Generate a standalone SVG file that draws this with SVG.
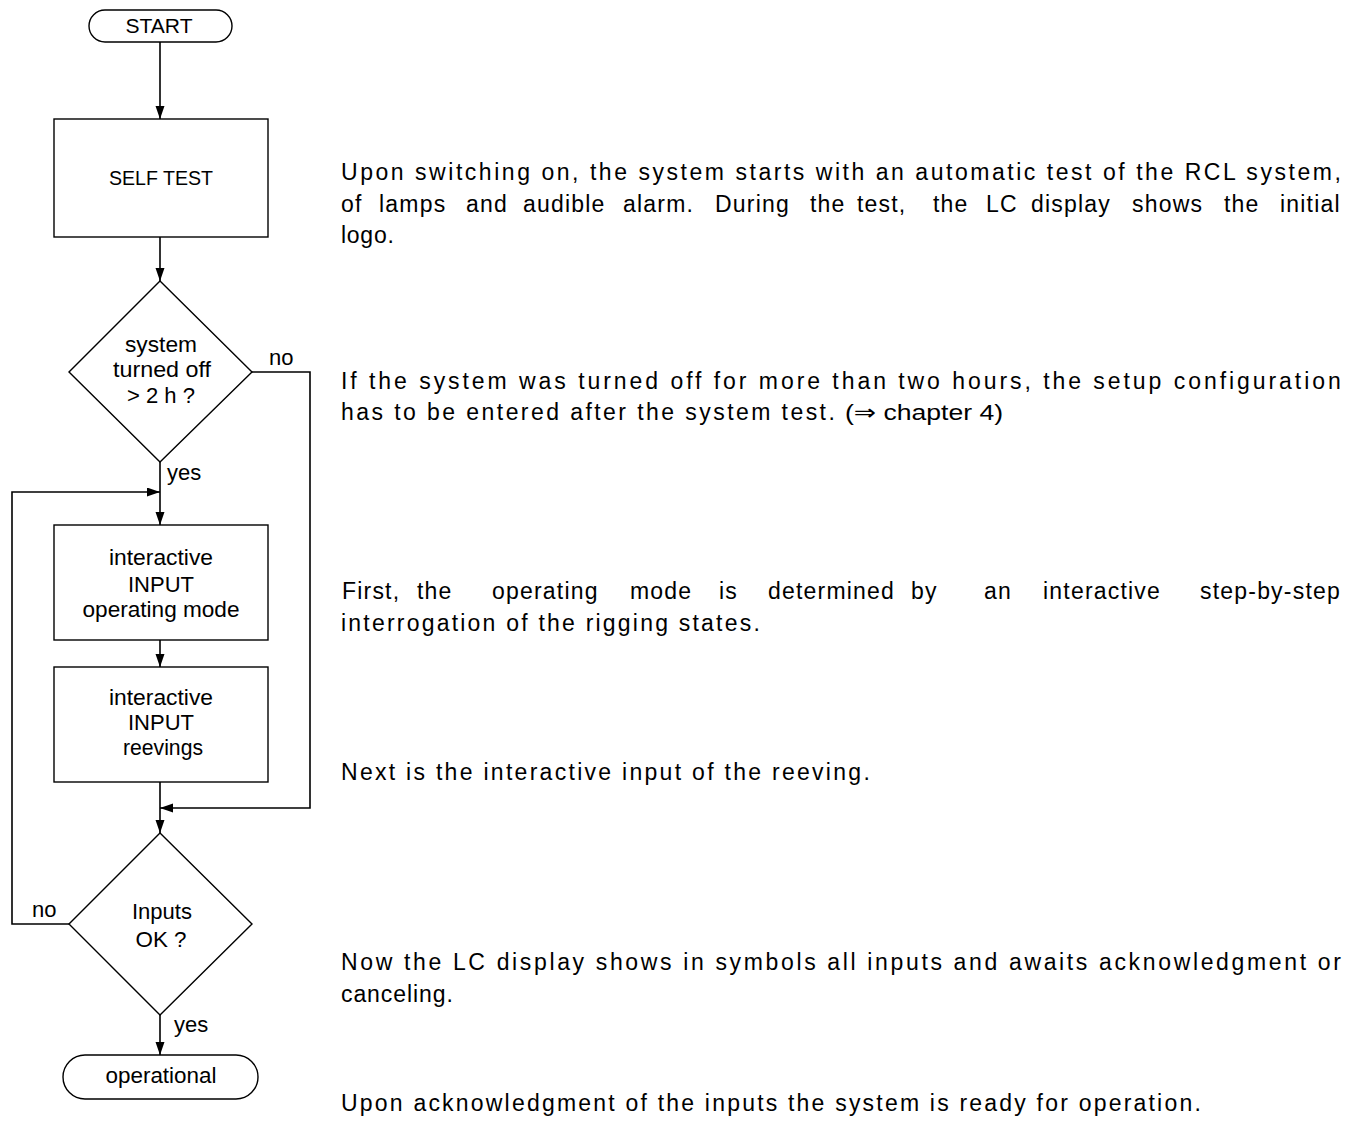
<svg xmlns="http://www.w3.org/2000/svg" width="1362" height="1122" viewBox="0 0 1362 1122">
<style>
.shape{fill:#fff;stroke:#000;stroke-width:1.4}
.conn{fill:none;stroke:#000;stroke-width:1.6}
.lbl{font-family:"Liberation Sans",Arial,sans-serif;font-size:22px;fill:#000;text-anchor:middle}
.cap{font-size:20px}
.lab{font-family:"Liberation Sans",Arial,sans-serif;font-size:22px;fill:#000}
.body{font-family:"Liberation Sans",Arial,sans-serif;font-size:23px;letter-spacing:1.2px;fill:#000}
</style>
<defs>
<marker id="ah" markerUnits="userSpaceOnUse" markerWidth="14" markerHeight="10" refX="13" refY="4.5" orient="auto">
<path d="M0,0 L13,4.5 L0,9 z" fill="#000"/>
</marker>
</defs>
<rect width="1362" height="1122" fill="#fff"/>

<g id="connectors">
<path class="conn" d="M160,42 V119" marker-end="url(#ah)"/>
<path class="conn" d="M160,237 V281" marker-end="url(#ah)"/>
<path class="conn" d="M160,462 V525" marker-end="url(#ah)"/>
<path class="conn" d="M69,924 H12 V492 H160" marker-end="url(#ah)"/>
<path class="conn" d="M160,640 V667" marker-end="url(#ah)"/>
<path class="conn" d="M160,782 V833" marker-end="url(#ah)"/>
<path class="conn" d="M252,372 H310 V808 H160" marker-end="url(#ah)"/>
<path class="conn" d="M160,1015 V1055" marker-end="url(#ah)"/>
<text class="lab" x="269" y="365">no</text>
<text class="lab" x="167" y="480">yes</text>
<text class="lab" x="32" y="917">no</text>
<text class="lab" x="174" y="1032">yes</text>
</g>

<g id="start">
<rect class="shape" x="89" y="10" width="143" height="32" rx="16" ry="16"/>
<text class="lbl cap" x="159" y="33" textLength="67" lengthAdjust="spacingAndGlyphs">START</text>
</g>

<g id="selftest">
<rect class="shape" x="54" y="119" width="214" height="118"/>
<text class="lbl cap" x="161" y="185" textLength="104" lengthAdjust="spacingAndGlyphs">SELF TEST</text>
</g>

<g id="decision1">
<polygon class="shape" points="160,281 252,372 160,462 69,372"/>
<text class="lbl" x="161" y="352" textLength="72" lengthAdjust="spacingAndGlyphs">system</text>
<text class="lbl" x="162" y="377" textLength="98" lengthAdjust="spacingAndGlyphs">turned off</text>
<text class="lbl" x="161" y="403" textLength="68" lengthAdjust="spacingAndGlyphs">&gt; 2 h ?</text>
</g>

<g id="input-mode">
<rect class="shape" x="54" y="525" width="214" height="115"/>
<text class="lbl" x="161" y="565" textLength="104" lengthAdjust="spacingAndGlyphs">interactive</text>
<text class="lbl" x="161" y="592" textLength="66" lengthAdjust="spacingAndGlyphs">INPUT</text>
<text class="lbl" x="161" y="617" textLength="157" lengthAdjust="spacingAndGlyphs">operating mode</text>
</g>

<g id="input-reevings">
<rect class="shape" x="54" y="667" width="214" height="115"/>
<text class="lbl" x="161" y="705" textLength="104" lengthAdjust="spacingAndGlyphs">interactive</text>
<text class="lbl" x="161" y="730" textLength="66" lengthAdjust="spacingAndGlyphs">INPUT</text>
<text class="lbl" x="163" y="755" textLength="80" lengthAdjust="spacingAndGlyphs">reevings</text>
</g>

<g id="decision2">
<polygon class="shape" points="160,833 252,924 160,1015 69,924"/>
<text class="lbl" x="162" y="919" textLength="60" lengthAdjust="spacingAndGlyphs">Inputs</text>
<text class="lbl" x="161" y="947" textLength="51" lengthAdjust="spacingAndGlyphs">OK ?</text>
</g>

<g id="operational">
<rect class="shape" x="63" y="1055" width="195" height="44" rx="22" ry="22"/>
<text class="lbl" x="161" y="1083" textLength="111" lengthAdjust="spacingAndGlyphs">operational</text>
</g>

<g id="description">
<text class="body" x="341" y="180" textLength="1001" lengthAdjust="spacing">Upon switching on, the system starts with an automatic test of the RCL system,</text>
<text class="body" y="212"><tspan x="341">of</tspan><tspan x="379">lamps</tspan><tspan x="466">and</tspan><tspan x="523">audible</tspan><tspan x="623">alarm.</tspan><tspan x="715">During</tspan><tspan x="810">the</tspan><tspan x="857">test,</tspan><tspan x="933">the</tspan><tspan x="986">LC</tspan><tspan x="1031">display</tspan><tspan x="1132">shows</tspan><tspan x="1224">the</tspan><tspan x="1280">initial</tspan></text>
<text class="body" x="341" y="243" textLength="54" lengthAdjust="spacing">logo.</text>

<text class="body" x="341" y="389" textLength="1001" lengthAdjust="spacing">If the system was turned off for more than two hours, the setup configuration</text>
<text class="body" x="341" y="420" textLength="495" lengthAdjust="spacing">has to be entered after the system test.</text>
<text x="845" y="420" textLength="158" lengthAdjust="spacingAndGlyphs" style="font-family:'Liberation Sans Narrow','Liberation Sans','DejaVu Sans',sans-serif;font-size:22px;fill:#000">(⇒ chapter 4)</text>

<text class="body" y="599"><tspan x="342">First,</tspan><tspan x="417">the</tspan><tspan x="492">operating</tspan><tspan x="630">mode</tspan><tspan x="719">is</tspan><tspan x="768">determined</tspan><tspan x="911">by</tspan><tspan x="984">an</tspan><tspan x="1043">interactive</tspan><tspan x="1200">step-by-step</tspan></text>
<text class="body" x="341" y="631" textLength="420" lengthAdjust="spacing">interrogation of the rigging states.</text>

<text class="body" x="341" y="780" textLength="530" lengthAdjust="spacing">Next is the interactive input of the reeving.</text>

<text class="body" x="341" y="970" textLength="1001" lengthAdjust="spacing">Now the LC display shows in symbols all inputs and awaits acknowledgment or</text>
<text class="body" x="341" y="1002" textLength="113" lengthAdjust="spacing">canceling.</text>

<text class="body" x="341" y="1111" textLength="861" lengthAdjust="spacing">Upon acknowledgment of the inputs the system is ready for operation.</text>
</g>
</svg>
